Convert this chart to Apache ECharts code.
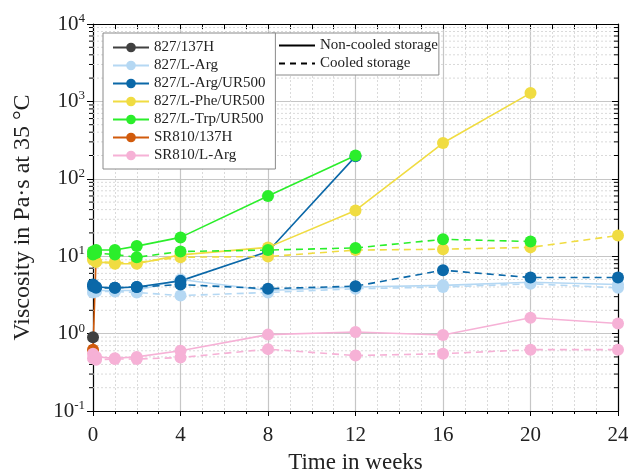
<!DOCTYPE html>
<html>
<head>
<meta charset="utf-8">
<script src="https://cdn.jsdelivr.net/npm/echarts@6/dist/echarts.min.js"></script>
<style>
  html, body { margin: 0; padding: 0; background: #fff; }
  #chart { width: 628px; height: 472px; }
</style>
</head>
<body>
<div id="chart"></div>
<script>
// time points (weeks)
const weeks = [0, 0.14, 1, 2, 4, 8, 12, 16, 20, 24];

// 827/137H and SR810/137H only have start values
const gray137Weeks = [0];
const gray137 = [0.9];
const orange137Weeks = [0, 0.14];
const orange137 = [0.62, 9.5];

// non-cooled (solid) / cooled (dashed), aligned with weeks
const lArgSolid = [3.7, 3.6, 3.6, 3.6, 5.0, 3.6, 4.0, 4.2, 4.6, 4.3];
const lArgDash = [3.4, 3.5, 3.5, 3.4, 3.1, 3.4, 3.8, 4.0, 4.4, 3.9];
const lArgUrSolid = [4.3, 4.0, 3.9, 4.0, 4.8, 11.5, 195];
const lArgUrDash = [4.1, 3.9, 3.9, 4.0, 4.3, 3.8, 4.1, 6.6, 5.3, 5.3];
const lPheSolid = [9.5, 8.5, 8.0, 8.0, 10.4, 13, 39, 290, 1280];
const lPheDash = [9.0, 8.5, 8.3, 8.3, 9.7, 9.9, 12, 12.3, 13, 18.5];
const lTrpSolid = [11.5, 12, 12, 13.5, 17.5, 60, 200];
const lTrpDash = [10.5, 11, 10.5, 9.7, 11.5, 12, 12.8, 16.5, 15.5];
const srArgSolid = [0.55, 0.5, 0.48, 0.5, 0.6, 0.97, 1.05, 0.96, 1.6, 1.35];
const srArgDash = [0.48, 0.46, 0.47, 0.47, 0.49, 0.63, 0.52, 0.55, 0.62, 0.62];

const names = ["827/137H", "827/L-Arg", "827/L-Arg/UR500", "827/L-Phe/UR500",
  "827/L-Trp/UR500", "SR810/137H", "SR810/L-Arg"];
const colors = ["#404040", "#b5d8f3", "#0b68a8", "#f0dc42", "#2bee2b", "#d15b0c", "#f6b1d6"];

const serif = "Liberation Serif";

function pairs(xs, ys) {
  return ys.map((v, i) => [xs[i], v]);
}

// minor log values 2..9 per decade
const minorVals = [];
for (let e = -1; e <= 3; e++) {
  for (let k = 2; k <= 9; k++) minorVals.push([0, k * Math.pow(10, e)]);
}

function lineSeries(name, color, data, dashed) {
  return {
    name: name,
    type: "line",
    data: data,
    color: color,
    symbol: "circle",
    symbolSize: 12,
    lineStyle: { width: 1.6, type: dashed ? [7, 5] : "solid" },
    itemStyle: { color: color },
    emphasis: { disabled: true },
    z: 5,
  };
}

const series = [
  {
    type: "custom",
    data: minorVals,
    encode: { x: 0, y: 1 },
    silent: true,
    z: 1,
    renderItem: function (params, api) {
      const v = api.value(1);
      const p0 = api.coord([0, v]);
      const p1 = api.coord([24, v]);
      return {
        type: "group",
        children: [
          { type: "line", shape: { x1: p0[0], y1: p0[1], x2: p1[0], y2: p1[1] },
            style: { stroke: "#dadada", lineWidth: 1, lineDash: [2, 2] } },
          { type: "line", shape: { x1: p0[0] - 4, y1: p0[1], x2: p0[0], y2: p0[1] },
            style: { stroke: "#000", lineWidth: 1 } },
          { type: "line", shape: { x1: p1[0] - 4, y1: p1[1], x2: p1[0], y2: p1[1] },
            style: { stroke: "#000", lineWidth: 1 } },
        ],
      };
    },
  },
  lineSeries(names[5], colors[5], [[0, orange137[0]], { value: [orange137Weeks[1], orange137[1]], symbol: "none" }], false),
  lineSeries(names[0], colors[0], pairs(gray137Weeks, gray137), false),
  lineSeries(names[1], colors[1], pairs(weeks, lArgSolid), false),
  lineSeries(names[1], colors[1], pairs(weeks, lArgDash), true),
  lineSeries(names[2], colors[2], pairs(weeks, lArgUrSolid), false),
  lineSeries(names[2], colors[2], pairs(weeks, lArgUrDash), true),
  lineSeries(names[3], colors[3], pairs(weeks, lPheSolid), false),
  lineSeries(names[3], colors[3], pairs(weeks, lPheDash), true),
  lineSeries(names[4], colors[4], pairs(weeks, lTrpSolid), false),
  lineSeries(names[4], colors[4], pairs(weeks, lTrpDash), true),
  lineSeries(names[6], colors[6], pairs(weeks, srArgSolid), false),
  lineSeries(names[6], colors[6], pairs(weeks, srArgDash), true),
  // legend-only entries for storage type
  { name: "Non-cooled storage", type: "line", data: [], symbol: "none", color: "#000",
    itemStyle: { opacity: 0 }, lineStyle: { color: "#000", width: 1.5, type: "solid" } },
  { name: "Cooled storage", type: "line", data: [], symbol: "none", color: "#000",
    itemStyle: { opacity: 0 }, lineStyle: { color: "#000", width: 1.5, type: [6, 5] } },
];

const option = {
  animation: false,
  backgroundColor: "#fff",
  grid: { left: 93, right: 10, top: 24, bottom: 61, outerBoundsMode: "none", containLabel: false },
  legend: [
    {
      data: names,
      orient: "vertical",
      left: 103,
      top: 33,
      itemWidth: 36,
      itemHeight: 12,
      itemGap: 3,
      padding: [7, 10, 6, 9],
      backgroundColor: "#fff",
      borderColor: "#8a8a8a",
      borderWidth: 1,
      borderRadius: 0,
      textStyle: { fontFamily: serif, fontSize: 15, color: "#222" },
      z: 20,
    },
    {
      data: ["Non-cooled storage", "Cooled storage"],
      orient: "vertical",
      left: 272,
      top: 33,
      itemWidth: 36,
      itemHeight: 12,
      itemGap: 3,
      padding: [5, 1, 4, 6],
      backgroundColor: "#fff",
      borderColor: "#8a8a8a",
      borderWidth: 1,
      borderRadius: 0,
      itemStyle: { opacity: 0 },
      textStyle: { fontFamily: serif, fontSize: 15, color: "#222" },
      z: 10,
    },
  ],
  xAxis: [
    {
      type: "value",
      min: 0,
      max: 24,
      interval: 4,
      name: "Time in weeks",
      nameLocation: "middle",
      nameGap: 40,
      nameTextStyle: { fontFamily: serif, fontSize: 23, color: "#222" },
      axisLine: { lineStyle: { color: "#000", width: 1.2 } },
      axisTick: { length: 5, lineStyle: { color: "#000" } },
      minorTick: { show: true, splitNumber: 4, length: 3, lineStyle: { color: "#000" } },
      axisLabel: { fontFamily: serif, fontSize: 21, color: "#222", margin: 14 },
      splitLine: { show: true, lineStyle: { color: "#c6c6c6", width: 1.2 } },
      minorSplitLine: { show: true, lineStyle: { color: "#dadada", type: [2, 2] } },
    },
    {
      type: "value",
      position: "top",
      min: 0,
      max: 24,
      interval: 4,
      axisLine: { show: true, onZero: false, lineStyle: { color: "#000", width: 1.2 } },
      axisTick: { inside: true, length: 5, lineStyle: { color: "#000" } },
      minorTick: { show: true, splitNumber: 4, length: 5, lineStyle: { color: "#000" } },
      axisLabel: { show: false },
      splitLine: { show: false },
    },
  ],
  yAxis: [
    {
      type: "log",
      logBase: 10,
      min: 0.1,
      max: 10000,
      name: "Viscosity in Pa\u00b7s at 35 \u00b0C",
      nameLocation: "middle",
      nameGap: 58,
      nameTextStyle: { fontFamily: serif, fontSize: 24, color: "#222" },
      axisLine: { show: true, lineStyle: { color: "#000", width: 1.2 } },
      axisTick: { length: 6, lineStyle: { color: "#000" } },
      axisLabel: {
        margin: 8,
        formatter: function (v) {
          const e = Math.round(Math.log10(v));
          return "{b|10}{s|" + e + "}";
        },
        rich: {
          b: { fontFamily: serif, fontSize: 21, color: "#222", lineHeight: 24 },
          s: { fontFamily: serif, fontSize: 13, color: "#222", verticalAlign: "top", lineHeight: 24 },
        },
      },
      splitLine: { show: true, lineStyle: { color: "#c6c6c6", width: 1.2 } },
    },
    {
      type: "log",
      logBase: 10,
      min: 0.1,
      max: 10000,
      position: "right",
      axisLine: { show: true, onZero: false, lineStyle: { color: "#000", width: 1.2 } },
      axisTick: { inside: true, length: 6, lineStyle: { color: "#000" } },
      axisLabel: { show: false },
      splitLine: { show: false },
    },
  ],
  series: series,
};

const chart = echarts.init(document.getElementById("chart"));
chart.setOption(option);
</script>
</body>
</html>
